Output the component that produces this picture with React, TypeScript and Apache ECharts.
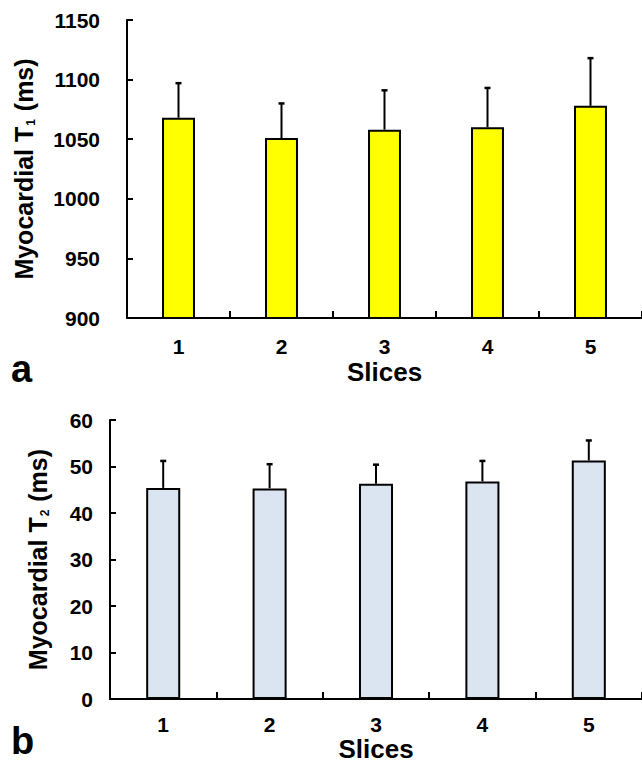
import React, { useEffect, useRef } from "react";
import * as echarts from "echarts";

const categories = ["1", "2", "3", "4", "5"];
const t1Means = [1068, 1051, 1058, 1060, 1078];
const t1Sd = [29, 29, 33, 33, 40];
const t2Means = [45.4, 45.3, 46.3, 46.8, 51.3];
const t2Sd = [5.8, 5.2, 4.1, 4.4, 4.3];
const t1Ticks = { min: 900, max: 1150, interval: 50 };
const t2Ticks = { min: 0, max: 60, interval: 10 };

const FONT = "'Liberation Sans', Arial, sans-serif";

function errorRender(means: number[], sds: number[]) {
  return (params: any, api: any) => {
    const i = api.value(0);
    const base = api.coord([i, means[i]]);
    const top = api.coord([i, means[i] + sds[i]]);
    const cap = 3;
    return {
      type: "group",
      children: [
        {
          type: "line",
          shape: { x1: base[0], y1: base[1], x2: top[0], y2: top[1] },
          style: { stroke: "#000", lineWidth: 2 },
        },
        {
          type: "line",
          shape: { x1: top[0] - cap, y1: top[1], x2: top[0] + cap, y2: top[1] },
          style: { stroke: "#000", lineWidth: 2.5 },
        },
      ],
    };
  };
}

function yName(sub: string) {
  return `{a|Myocardial T}{s|${sub}}{a| (ms)}`;
}

export default function App() {
  const ref = useRef<HTMLDivElement>(null);
  useEffect(() => {
    if (!ref.current) return;
    const chart = echarts.init(ref.current, null, { renderer: "svg" });
    const axisLine = { show: true, lineStyle: { color: "#000", width: 2 } };
    const tickLabel = {
      color: "#000",
      fontWeight: "bold",
      fontSize: 21,
      fontFamily: FONT,
      formatter: (v: any) => String(v),
    };
    const nameRich = {
      a: { fontSize: 25, fontWeight: "bold", fontFamily: FONT, color: "#000" },
      s: { fontSize: 12, fontWeight: "bold", fontFamily: FONT, color: "#000", padding: [14, 1, 0, 1] },
    };
    const xName = { color: "#000", fontWeight: "bold", fontSize: 26, fontFamily: FONT };
    chart.setOption({
      animation: false,
      backgroundColor: "#fff",
      grid: [
        { left: 127, top: 20, width: 515, height: 298 },
        { left: 110, top: 420, width: 532, height: 283 },
      ],
      xAxis: [0, 1].map((g) => ({
        type: "category",
        gridIndex: g,
        data: categories,
        axisLine,
        axisTick: { show: true, inside: true, length: 7, lineStyle: { color: "#000", width: 2 } },
        axisLabel: { ...tickLabel, margin: g === 0 ? 18 : 15 },
        name: "Slices",
        nameLocation: "middle",
        nameGap: g === 0 ? 41 : 31,
        nameTextStyle: xName,
        splitLine: { show: false },
      })),
      yAxis: [
        {
          type: "value",
          gridIndex: 0,
          ...t1Ticks,
          axisLine,
          axisTick: { show: true, inside: true, length: 6, lineStyle: { color: "#000", width: 2 } },
          axisLabel: { ...tickLabel, margin: 27 },
          splitLine: { show: false },
          name: yName("1"),
          nameLocation: "middle",
          nameRotate: 90,
          nameGap: 90,
          nameTextStyle: { rich: nameRich },
        },
        {
          type: "value",
          gridIndex: 1,
          ...t2Ticks,
          axisLine,
          axisTick: { show: true, inside: true, length: 6, lineStyle: { color: "#000", width: 2 } },
          axisLabel: { ...tickLabel, margin: 17 },
          splitLine: { show: false },
          name: yName("2"),
          nameLocation: "middle",
          nameRotate: 90,
          nameGap: 59,
          nameTextStyle: { rich: nameRich },
        },
      ],
      series: [
        {
          type: "bar",
          xAxisIndex: 0,
          yAxisIndex: 0,
          data: t1Means,
          barWidth: "32%",
          itemStyle: { color: "#ffff00", borderColor: "#000", borderWidth: 2 },
        },
        {
          type: "custom",
          xAxisIndex: 0,
          yAxisIndex: 0,
          data: t1Means.map((m, i) => [i, m + t1Sd[i]]),
          renderItem: errorRender(t1Means, t1Sd),
          z: 5,
        },
        {
          type: "bar",
          xAxisIndex: 1,
          yAxisIndex: 1,
          data: t2Means,
          barWidth: "32%",
          itemStyle: { color: "#dbe5f1", borderColor: "#000", borderWidth: 2 },
        },
        {
          type: "custom",
          xAxisIndex: 1,
          yAxisIndex: 1,
          data: t2Means.map((m, i) => [i, m + t2Sd[i]]),
          renderItem: errorRender(t2Means, t2Sd),
          z: 5,
        },
      ],
      graphic: [
        {
          type: "text",
          left: 11,
          top: 350,
          style: { text: "a", fontSize: 38, fontWeight: "bold", fontFamily: FONT, fill: "#000" },
        },
        {
          type: "text",
          left: 11,
          top: 722,
          style: { text: "b", fontSize: 38, fontWeight: "bold", fontFamily: FONT, fill: "#000" },
        },
      ],
    });
    return () => chart.dispose();
  }, []);
  return (
    <div
      ref={ref}
      style={{ position: "fixed", left: 0, top: 0, width: 642, height: 763, background: "#fff" }}
    />
  );
}
